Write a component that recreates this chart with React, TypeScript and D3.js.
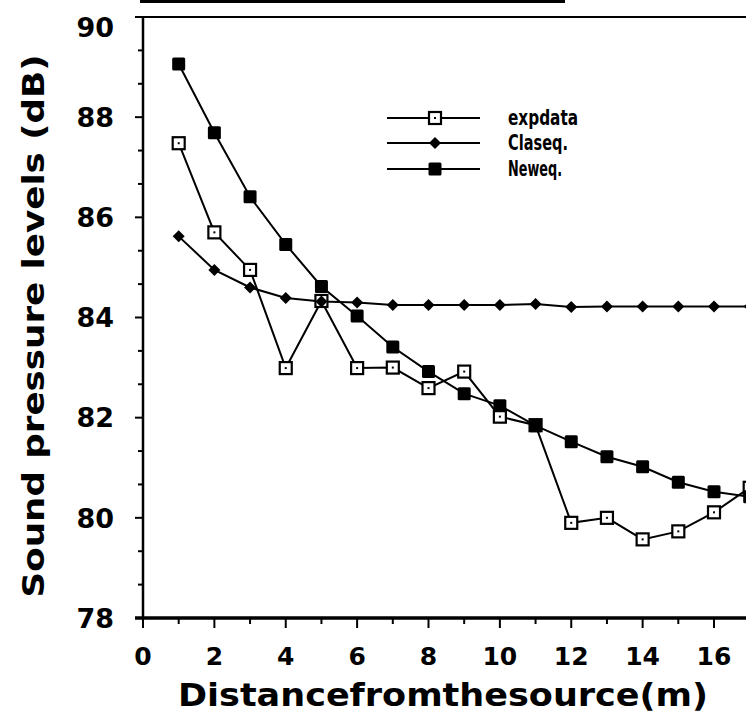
import * as d3 from "d3";

// distances from the source (m)
const distances = [1, 2, 3, 4, 5, 6, 7, 8, 9, 10, 11, 12, 13, 14, 15, 16, 17];

// sound pressure levels (dB)
const expData = [87.48, 85.7, 84.95, 82.99, 84.33, 82.99, 83.0, 82.59, 82.92, 82.02, 81.85, 79.9, 80.0, 79.57, 79.73, 80.11, 80.6];
const clasEq = [85.62, 84.95, 84.6, 84.39, 84.32, 84.3, 84.25, 84.25, 84.25, 84.25, 84.27, 84.21, 84.22, 84.22, 84.22, 84.22, 84.22];
const newEq = [89.06, 87.69, 86.41, 85.46, 84.62, 84.03, 83.41, 82.92, 82.48, 82.24, 81.84, 81.52, 81.22, 81.02, 80.71, 80.52, 80.42];

const xTicks = [0, 1, 2, 3, 4, 5, 6, 7, 8, 9, 10, 11, 12, 13, 14, 15, 16];
const xTickLabels = [0, 2, 4, 6, 8, 10, 12, 14, 16];
const yTickLabels = [78, 80, 82, 84, 86, 88, 90];

const seriesNames = ["expdata", "Claseq.", "Neweq."];

const W = 746;
const H = 717;

const x = d3.scaleLinear().domain([0, 16]).range([143, 714]);
const y = d3.scaleLinear().domain([78, 90]).range([618, 17]);

// minor ticks on y every 2/3 dB
const yTicks = d3.range(0, 19).map((i) => 78 + (i * 2) / 3);

const line = d3
  .line<number>()
  .x((_, i) => x(distances[i]))
  .y((d) => y(d));

const OpenSquare = ({ cx, cy }: { cx: number; cy: number }) => (
  <g>
    <rect x={cx - 6} y={cy - 6} width={12} height={12} fill="#fff" stroke="#000" strokeWidth={2.2} />
    <rect x={cx - 1} y={cy - 1} width={2} height={2} fill="#000" />
  </g>
);

const Diamond = ({ cx, cy }: { cx: number; cy: number }) => (
  <path d={`M${cx},${cy - 6}L${cx + 6},${cy}L${cx},${cy + 6}L${cx - 6},${cy}Z`} fill="#000" />
);

const FilledSquare = ({ cx, cy }: { cx: number; cy: number }) => (
  <rect x={cx - 6.5} y={cy - 6.5} width={13} height={13} rx={1.5} fill="#000" />
);

const markers = [OpenSquare, Diamond, FilledSquare];
const allSeries = [expData, clasEq, newEq];

export default function App() {
  const xAxisY = y(78);
  const yAxisX = x(0);
  const tickFont = "'DejaVu Sans', 'Liberation Sans', sans-serif";
  const condFont = "'DejaVu Sans Condensed', 'Liberation Sans Narrow', 'DejaVu Sans', sans-serif";
  const legendY = [118, 143, 169];
  const legendW = [70, 60, 54];

  return (
    <svg
      width={W}
      height={H}
      style={{ position: "absolute", left: 0, top: 0, background: "#fff" }}
    >
      {/* bit of a rule at the very top */}
      <line x1={140} x2={565} y1={1.5} y2={1.5} stroke="#000" strokeWidth={3} />

      {/* frame top */}
      <line x1={yAxisX - 8} x2={W} y1={y(90)} y2={y(90)} stroke="#000" strokeWidth={2} />

      {/* y axis */}
      <line x1={yAxisX} x2={yAxisX} y1={y(90)} y2={xAxisY} stroke="#000" strokeWidth={2.5} />
      {yTicks.map((t, i) => (
        <line
          key={"yt" + i}
          x1={yAxisX}
          x2={yAxisX - (i % 3 === 0 ? 8 : 5)}
          y1={y(t)}
          y2={y(t)}
          stroke="#000"
          strokeWidth={2}
        />
      ))}
      {yTickLabels.map((t) => (
        <text
          key={"yl" + t}
          x={114}
          y={y(t) + (t === 90 ? 10 : 0)}
          dy="0.36em"
          textAnchor="end"
          fontFamily={tickFont}
          fontWeight="bold"
          fontSize={27}
        >
          {t}
        </text>
      ))}

      {/* x axis */}
      <line x1={yAxisX - 8} x2={W} y1={xAxisY} y2={xAxisY} stroke="#000" strokeWidth={3.5} />
      {xTicks.map((t) => (
        <line
          key={"xt" + t}
          x1={x(t)}
          x2={x(t)}
          y1={xAxisY}
          y2={xAxisY + (t % 2 === 0 ? 10 : 6)}
          stroke="#000"
          strokeWidth={2}
        />
      ))}
      {xTickLabels.map((t) => (
        <text
          key={"xl" + t}
          x={x(t)}
          y={665}
          textAnchor="middle"
          fontFamily={tickFont}
          fontWeight="bold"
          fontSize={25}
        >
          {t}
        </text>
      ))}

      {/* axis titles */}
      <text
        x={443}
        y={706}
        textAnchor="middle"
        fontFamily={condFont}
        fontWeight="bold"
        fontSize={32}
        textLength={530}
        lengthAdjust="spacingAndGlyphs"
      >
        Distancefromthesource(m)
      </text>
      <text
        transform="translate(44,326) rotate(-90)"
        textAnchor="middle"
        fontFamily={tickFont}
        fontWeight="bold"
        fontSize={31}
        textLength={543}
        lengthAdjust="spacingAndGlyphs"
      >
        Sound pressure levels (dB)
      </text>

      {/* series lines */}
      {allSeries.map((s, k) => (
        <path key={"l" + k} d={line(s) ?? ""} fill="none" stroke="#000" strokeWidth={2} />
      ))}

      {/* markers */}
      {allSeries.map((s, k) => {
        const M = markers[k];
        return (
          <g key={"m" + k}>
            {s.map((v, i) => (
              <M key={i} cx={x(distances[i])} cy={y(v)} />
            ))}
          </g>
        );
      })}

      {/* legend */}
      {seriesNames.map((name, k) => {
        const M = markers[k];
        const ly = legendY[k];
        return (
          <g key={"lg" + k}>
            <line x1={387} x2={480} y1={ly} y2={ly} stroke="#000" strokeWidth={2} />
            <M cx={435} cy={ly} />
            <text
              x={508}
              y={ly + 7}
              fontFamily={condFont}
              fontWeight="bold"
              fontSize={21}
              textLength={legendW[k]}
              lengthAdjust="spacingAndGlyphs"
            >
              {name}
            </text>
          </g>
        );
      })}
    </svg>
  );
}
